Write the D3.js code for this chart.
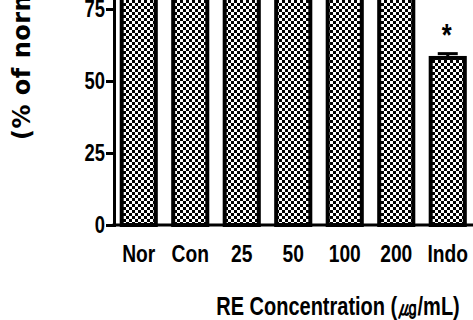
<!DOCTYPE html>
<html>
<head>
<meta charset="utf-8">
<script src="https://cdn.jsdelivr.net/npm/d3@7"></script>
<style>
  body { margin: 0; background: #fff; }
  svg { display: block; }
</style>
</head>
<body>
<svg id="chart"></svg>
<script>
// data (bars above ~79 are clipped by the frame)
const categories = ["Nor", "Con", "25", "50", "100", "200", "Indo"];
const values = [100, 100, 100, 100, 100, 100, 58];
const errors = [2, 2, 2, 2, 2, 2, 1.5];
const significant = [false, false, false, false, false, false, true];
const yTicks = [0, 25, 50, 75, 100];
const yLabelLines = ["NO production", "(% of normal)"];
const xTitle = "RE Concentration (㎍/mL)";

const W = 473, H = 320;
const svg = d3.select("#chart").attr("width", W).attr("height", H);

// checker fill of the bars
const defs = svg.append("defs");
const pat = defs.append("pattern")
  .attr("id", "checker")
  .attr("patternUnits", "userSpaceOnUse")
  .attr("width", 6).attr("height", 6);
pat.append("rect").attr("width", 6).attr("height", 6).attr("fill", "#fff");
pat.append("rect").attr("width", 3).attr("height", 3).attr("fill", "#000");
pat.append("rect").attr("x", 3).attr("y", 3).attr("width", 3).attr("height", 3).attr("fill", "#000");

const axisX = 114, baseY = 225;
const narrow = 0.8; // Arial Narrow look: squeeze Liberation Sans Bold

const x = d3.scaleBand()
  .domain(categories)
  .range([113, 113 + 51.5 * categories.length])
  .paddingInner(0.26)
  .paddingOuter(0.13);

const y = d3.scaleLinear()
  .domain([0, 100])
  .range([baseY, baseY - 288]);

const font = '"Liberation Sans", Arial, sans-serif';

function narrowText(g, tx, ty, str, size, anchor) {
  return g.append("text")
    .attr("transform", `translate(${tx},${ty}) scale(${narrow},1)`)
    .attr("text-anchor", anchor || "middle")
    .attr("font-family", font)
    .attr("font-weight", "bold")
    .attr("font-size", size)
    .attr("fill", "#000")
    .text(str);
}

// bars
svg.append("g").selectAll("rect")
  .data(values)
  .join("rect")
  .attr("x", (d, i) => x(categories[i]) + 2)
  .attr("width", x.bandwidth() - 4)
  .attr("y", d => y(d))
  .attr("height", d => baseY - y(d))
  .attr("fill", "url(#checker)")
  .attr("stroke", "#000")
  .attr("stroke-width", 4);

// error bars (upper only)
const eb = svg.append("g");
values.forEach((v, i) => {
  const cx = x(categories[i]) + x.bandwidth() / 2;
  eb.append("line")
    .attr("x1", cx).attr("x2", cx)
    .attr("y1", y(v)).attr("y2", y(v + errors[i]))
    .attr("stroke", "#000").attr("stroke-width", 3);
  eb.append("line")
    .attr("x1", cx - 10).attr("x2", cx + 10)
    .attr("y1", y(v + errors[i])).attr("y2", y(v + errors[i]))
    .attr("stroke", "#000").attr("stroke-width", 3);
  if (significant[i]) {
    narrowText(eb, cx - 1, y(v + errors[i]) - 8, "*", 32);
  }
});

// y axis
const yAxis = svg.append("g")
  .attr("transform", `translate(${axisX},0)`)
  .call(d3.axisLeft(y).tickValues(yTicks).tickSize(8).tickFormat(""));
yAxis.select(".domain").attr("stroke", "#000").attr("stroke-width", 3);
yAxis.selectAll(".tick line").attr("stroke", "#000").attr("stroke-width", 3);
const yl = svg.append("g");
yTicks.forEach(t => narrowText(yl, axisX - 9, y(t) + 8, d3.format("d")(t), 23, "end"));

// x axis baseline
svg.append("line")
  .attr("x1", axisX - 1.5).attr("x2", W)
  .attr("y1", baseY).attr("y2", baseY)
  .attr("stroke", "#000").attr("stroke-width", 3);

// x tick labels
const xl = svg.append("g");
categories.forEach(c => narrowText(xl, x(c) + x.bandwidth() / 2, 262, c, 24));

// x title
narrowText(svg, 338, 315, xTitle, 25);

// y title, rotated, mostly cut off by the frame
const yt = [{ t: yLabelLines[0], bx: -6, by: 165 }, { t: yLabelLines[1], bx: 30, by: 140 }];
svg.append("g").selectAll("text")
  .data(yt)
  .join("text")
  .attr("transform", d => `translate(${d.bx},${d.by}) rotate(-90)`)
  .attr("font-family", '"DejaVu Sans", sans-serif')
  .attr("font-weight", "bold")
  .attr("font-size", 24)
  .attr("letter-spacing", 0.5)
  .text(d => d.t);
</script>
</body>
</html>
